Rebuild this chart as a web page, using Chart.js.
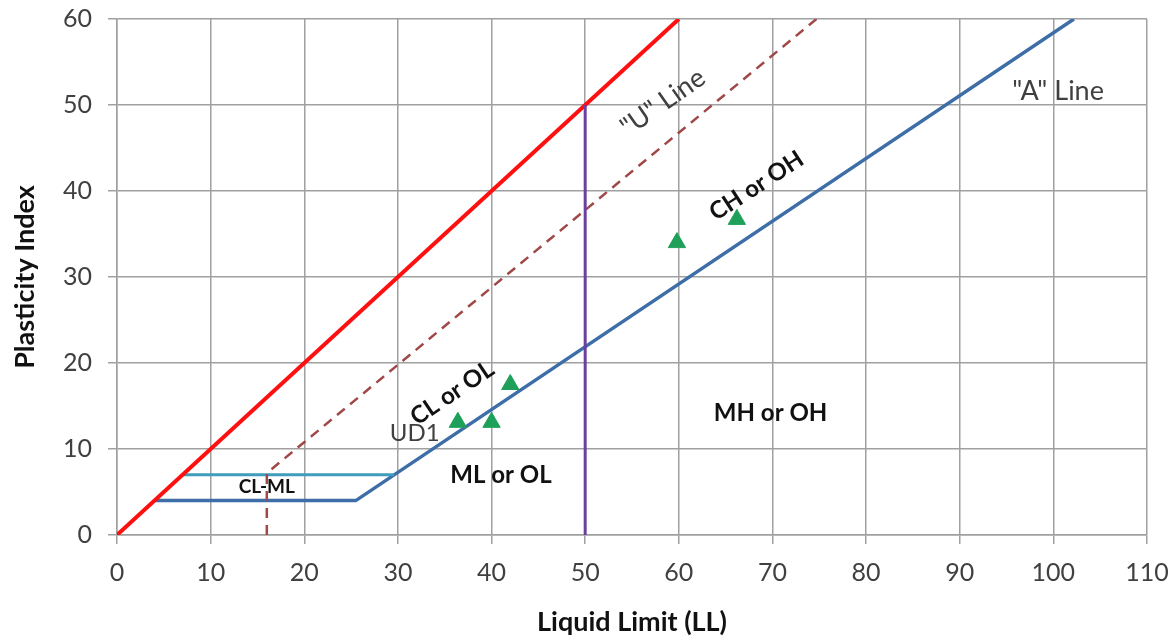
<!DOCTYPE html>
<html>
<head>
<meta charset="utf-8">
<script src="https://cdn.jsdelivr.net/npm/chart.js@4.4.0/dist/chart.umd.min.js"></script>
<style>
  html, body { margin: 0; padding: 0; background: #fff; }
  #wrap { width: 1176px; height: 638px; }
</style>
</head>
<body>
<div id="wrap"><canvas id="chart" width="1176" height="638"></canvas></div>
<script>
// plasticity chart data (LL = liquid limit, PI = plasticity index)
const xTicks = [0, 10, 20, 30, 40, 50, 60, 70, 80, 90, 100, 110];
const yTicks = [0, 10, 20, 30, 40, 50, 60];

const redLL = [0, 60];
const redPI = [0, 60];

const uLineLL = [16, 16, 74.7];
const uLinePI = [0, 7.2, 60];

const aLineLL = [4, 25.5, 102.2];
const aLinePI = [4, 4, 60];

const clmlLL = [7, 29.6];
const clmlPI = [7, 7];

const llFiftyLL = [50, 50];
const llFiftyPI = [0, 50];

const sampleLL = [36.4, 40, 42, 59.8, 66.2];
const samplePI = [13.1, 13.1, 17.5, 34, 36.7];

// zone labels in chart coordinates
const zoneLabels = [
  { text: 'CL-ML', ll: 16, pi: 5.6, bold: true, size: 19, rot: 0 },
  { text: 'ML or OL', ll: 41, pi: 6.9, bold: true, size: 24, rot: 0 },
  { text: 'MH or OH', ll: 69.8, pi: 14.2, bold: true, size: 24, rot: 0 },
  { text: 'CL or OL', ll: 35.8, pi: 16.5, bold: true, size: 24, rot: -34 },
  { text: 'CH or OH', ll: 68.3, pi: 40.6, bold: true, size: 24, rot: -33 },
  { text: '"U" Line', ll: 58.3, pi: 50.3, bold: false, size: 27, rot: -35 },
  { text: '"A" Line', ll: 100.5, pi: 51.6, bold: false, size: 27, rot: 0 },
  { text: 'UD1', ll: 31.8, pi: 11.8, bold: false, size: 24, rot: 0 }
];

const pts = (xs, ys) => xs.map((x, i) => ({ x: x, y: ys[i] }));

const FONT = 'Lato, "Open Sans", sans-serif';

const labelPlugin = {
  id: 'zoneLabels',
  afterDatasetsDraw(chart) {
    const ctx = chart.ctx;
    const xs = chart.scales.x, ys = chart.scales.y;
    zoneLabels.forEach(l => {
      ctx.save();
      ctx.translate(xs.getPixelForValue(l.ll), ys.getPixelForValue(l.pi));
      ctx.rotate(l.rot * Math.PI / 180);
      ctx.font = (l.bold ? 'bold ' : '') + l.size + 'px ' + FONT;
      ctx.fillStyle = l.bold ? '#111' : '#404040';
      ctx.textAlign = 'center';
      ctx.textBaseline = 'middle';
      ctx.fillText(l.text, 0, 0);
      ctx.restore();
    });
  }
};

new Chart(document.getElementById('chart'), {
  type: 'scatter',
  data: {
    datasets: [
      {
        label: 'Samples',
        data: pts(sampleLL, samplePI),
        pointStyle: 'triangle',
        pointRadius: 10,
        backgroundColor: '#1fa05a',
        borderColor: '#1fa05a',
        borderWidth: 1,
        order: 0
      },
      {
        label: 'LL = 50',
        data: pts(llFiftyLL, llFiftyPI),
        showLine: true,
        borderColor: '#6a3fa0',
        borderWidth: 3,
        pointRadius: 0,
        order: 1
      },
      {
        label: 'Upper limit',
        data: pts(redLL, redPI),
        showLine: true,
        borderColor: '#ff1010',
        borderWidth: 4,
        pointRadius: 0,
        order: 2
      },
      {
        label: 'U line',
        data: pts(uLineLL, uLinePI),
        showLine: true,
        borderColor: '#a04848',
        borderWidth: 2.5,
        borderDash: [10, 7],
        pointRadius: 0,
        order: 3
      },
      {
        label: 'CL-ML top',
        data: pts(clmlLL, clmlPI),
        showLine: true,
        borderColor: '#3f9cbc',
        borderWidth: 3,
        pointRadius: 0,
        order: 4
      },
      {
        label: 'A line',
        data: pts(aLineLL, aLinePI),
        showLine: true,
        borderColor: '#3d6ea8',
        borderWidth: 3.5,
        pointRadius: 0,
        order: 5
      }
    ]
  },
  options: {
    responsive: false,
    animation: false,
    layout: { padding: { left: 0, top: 19, right: 29, bottom: 0 } },
    plugins: {
      legend: { display: false },
      tooltip: { enabled: false }
    },
    scales: {
      x: {
        type: 'linear',
        min: 0,
        max: 110,
        afterBuildTicks: s => { s.ticks = xTicks.map(v => ({ value: v })); },
        afterFit: s => { s.height = 103; s.paddingLeft = 0; s.paddingRight = 0; },
        grid: { color: '#a0a0a0', lineWidth: 1.5, tickLength: 9, drawOnChartArea: true },
        border: { color: '#a0a0a0', width: 1.5 },
        ticks: { color: '#404040', font: { family: FONT, size: 25 }, padding: 14, maxRotation: 0 },
        title: {
          display: true,
          text: 'Liquid Limit (LL)',
          color: '#111',
          font: { family: FONT, size: 27, weight: 'bold' },
          padding: { top: 4, bottom: 0 }
        }
      },
      y: {
        type: 'linear',
        min: 0,
        max: 60,
        afterBuildTicks: s => { s.ticks = yTicks.map(v => ({ value: v })); },
        afterFit: s => { s.width = 117; s.paddingTop = 0; s.paddingBottom = 0; },
        grid: { color: '#a0a0a0', lineWidth: 1.5, tickLength: 9 },
        border: { color: '#a0a0a0', width: 1.5 },
        ticks: { color: '#404040', font: { family: FONT, size: 25 }, padding: 16 },
        title: {
          display: true,
          text: 'Plasticity Index',
          color: '#111',
          font: { family: FONT, size: 27, weight: 'bold' },
          padding: { top: 9, bottom: 0 }
        }
      }
    }
  },
  plugins: [labelPlugin]
});
</script>
</body>
</html>
